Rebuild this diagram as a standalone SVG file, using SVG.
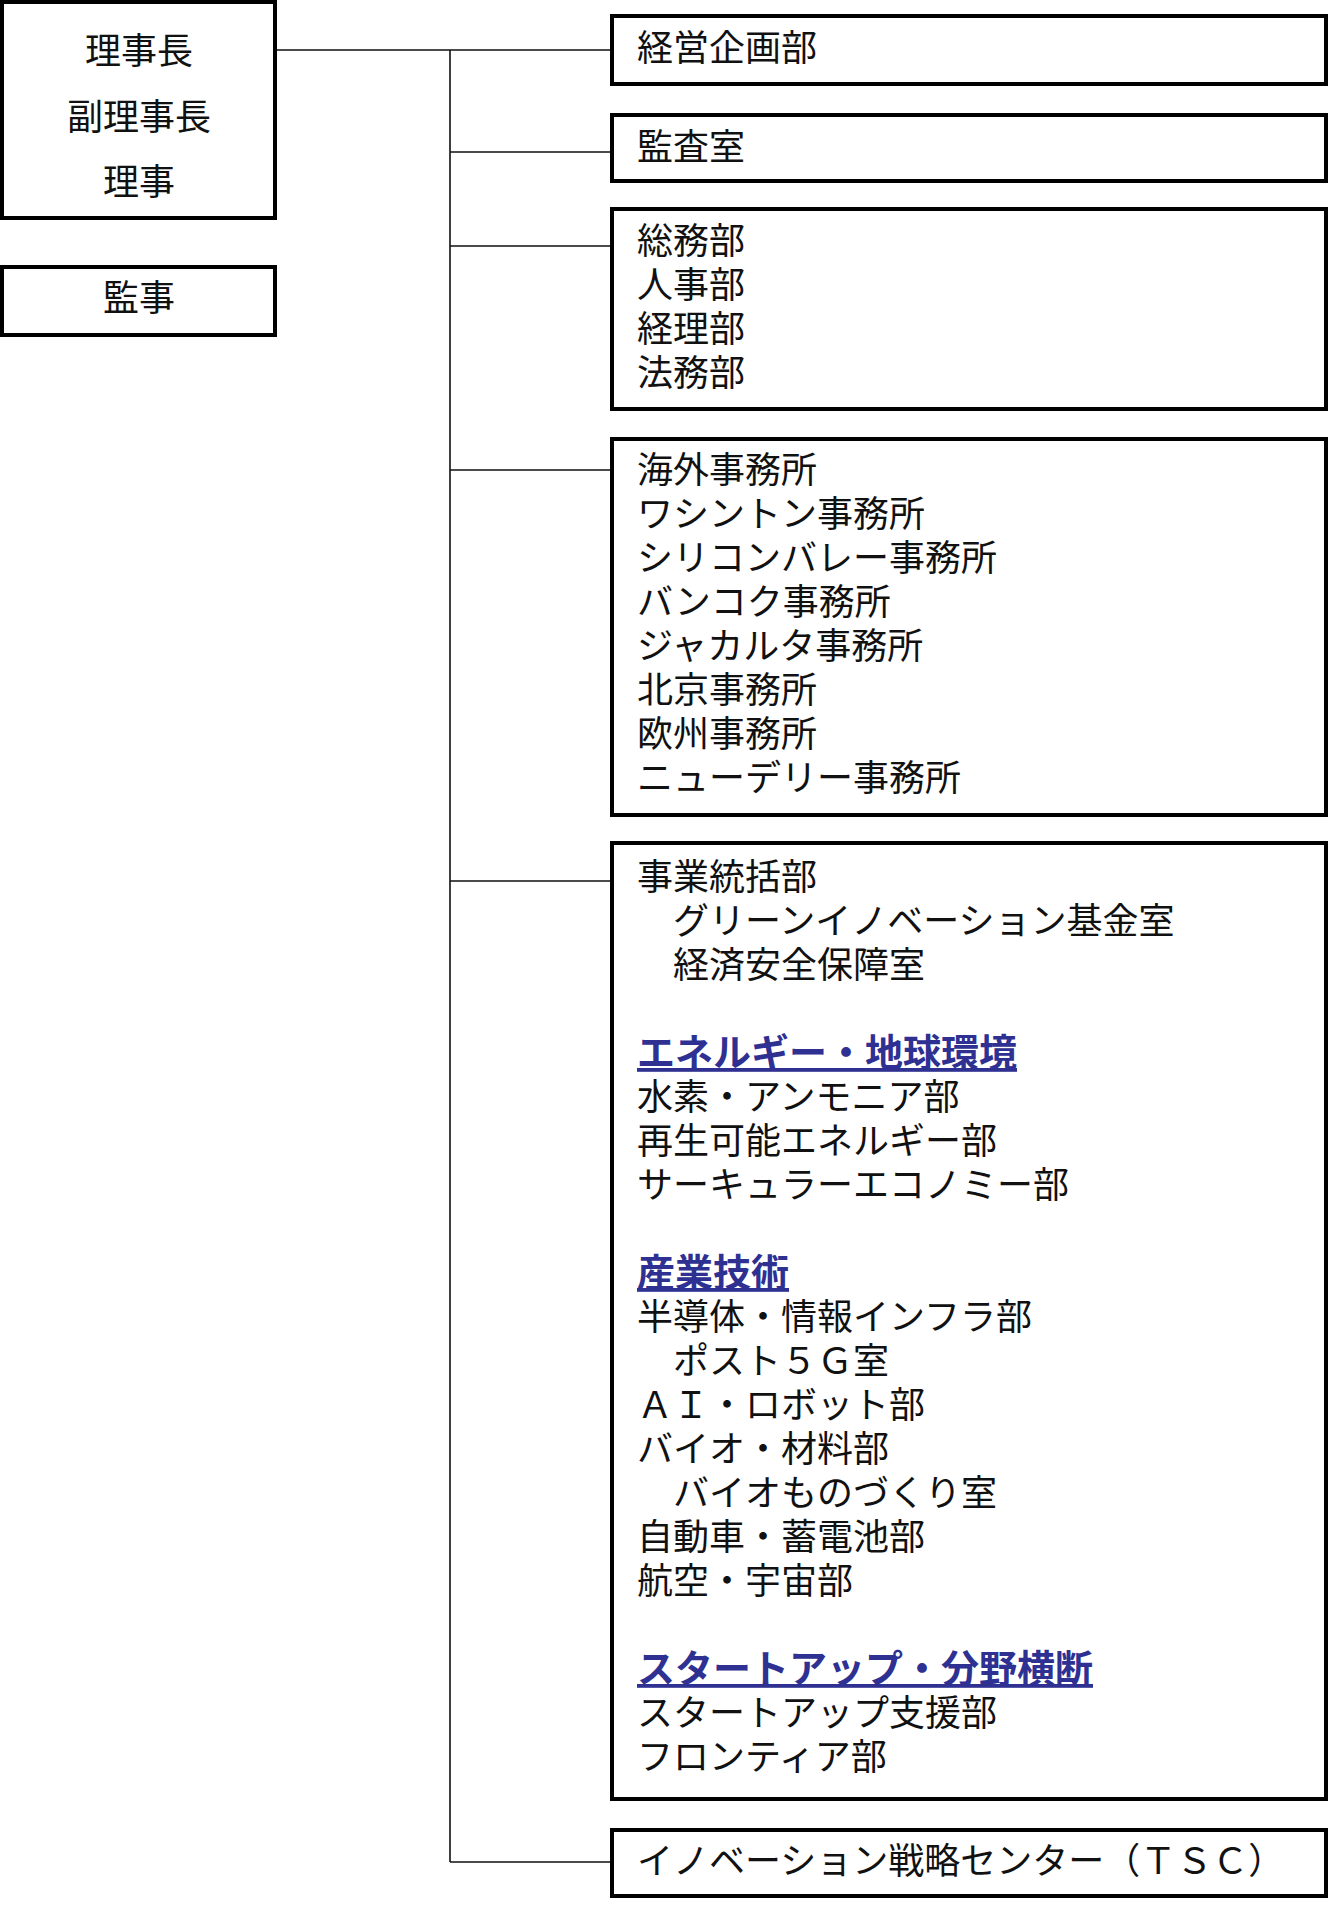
<svg xmlns="http://www.w3.org/2000/svg" width="1330" height="1907" viewBox="0 0 1330 1907">
<style>
.box{fill:#fff;stroke:#000;stroke-width:4}
.t{font-family:"Noto Sans CJK JP","Noto Sans CJK SC",sans-serif;font-size:36px;fill:#111}
.c{text-anchor:middle}
.h{font-family:"Noto Sans CJK JP","Noto Sans CJK SC",sans-serif;font-size:38px;font-weight:bold;fill:#2E3192;text-decoration:underline}
.ln{stroke:#111;stroke-width:1.6;fill:none}
</style>
<rect x="0" y="0" width="1330" height="1907" fill="#fff"/>
<g id="connectors">
<path class="ln" d="M277 50 H610 M450 50 V1862 M450 152 H610 M450 246 H610 M450 470 H610 M450 881 H610 M450 1862 H610"/>
</g>
<g id="board">
<rect class="box" x="2" y="2" width="273" height="216"/>
<text class="t c" x="139" y="64">理事長</text>
<text class="t c" x="139" y="130">副理事長</text>
<text class="t c" x="139" y="195">理事</text>
</g>
<g id="auditor">
<rect class="box" x="2" y="267" width="273" height="68"/>
<text class="t c" x="139" y="311">監事</text>
</g>
<g id="planning">
<rect class="box" x="612" y="16" width="714" height="68"/>
<text class="t" x="637" y="61">経営企画部</text>
</g>
<g id="audit-office">
<rect class="box" x="612" y="115" width="714" height="66"/>
<text class="t" x="637" y="160">監査室</text>
</g>
<g id="admin">
<rect class="box" x="612" y="209" width="714" height="200"/>
<text class="t" x="637" y="254">総務部</text>
<text class="t" x="637" y="298">人事部</text>
<text class="t" x="637" y="342">経理部</text>
<text class="t" x="637" y="386">法務部</text>
</g>
<g id="overseas">
<rect class="box" x="612" y="439" width="714" height="376"/>
<text class="t" x="637" y="483">海外事務所</text>
<text class="t" x="637" y="527">ワシントン事務所</text>
<text class="t" x="637" y="571">シリコンバレー事務所</text>
<text class="t" x="637" y="615">バンコク事務所</text>
<text class="t" x="637" y="659">ジャカルタ事務所</text>
<text class="t" x="637" y="703">北京事務所</text>
<text class="t" x="637" y="747">欧州事務所</text>
<text class="t" x="637" y="791">ニューデリー事務所</text>
</g>
<g id="business">
<rect class="box" x="612" y="843" width="714" height="956"/>
<text class="t" x="637" y="890">事業統括部</text>
<text class="t" x="673" y="934">グリーンイノベーション基金室</text>
<text class="t" x="673" y="978">経済安全保障室</text>
<text class="h" x="637" y="1066">エネルギー・地球環境</text>
<text class="t" x="637" y="1110">水素・アンモニア部</text>
<text class="t" x="637" y="1154">再生可能エネルギー部</text>
<text class="t" x="637" y="1198">サーキュラーエコノミー部</text>
<text class="h" x="637" y="1286">産業技術</text>
<text class="t" x="637" y="1330">半導体・情報インフラ部</text>
<text class="t" x="673" y="1374">ポスト５Ｇ室</text>
<text class="t" x="637" y="1418">ＡＩ・ロボット部</text>
<text class="t" x="637" y="1462">バイオ・材料部</text>
<text class="t" x="673" y="1506">バイオものづくり室</text>
<text class="t" x="637" y="1550">自動車・蓄電池部</text>
<text class="t" x="637" y="1594">航空・宇宙部</text>
<text class="h" x="637" y="1682">スタートアップ・分野横断</text>
<text class="t" x="637" y="1726">スタートアップ支援部</text>
<text class="t" x="637" y="1770">フロンティア部</text>
</g>
<g id="tsc">
<rect class="box" x="612" y="1830" width="714" height="66"/>
<text class="t" x="637" y="1874">イノベーション戦略センター（ＴＳＣ）</text>
</g>
</svg>
